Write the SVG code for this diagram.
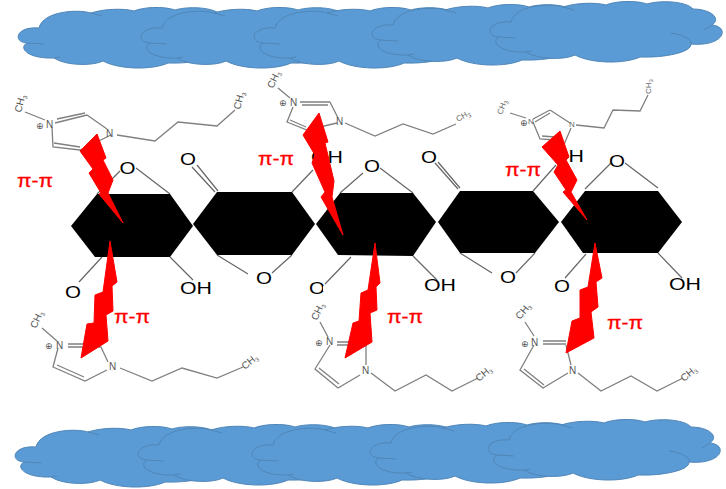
<svg xmlns="http://www.w3.org/2000/svg" width="726" height="489" viewBox="0 0 726 489">
<style>
.cloud{fill:#5b9bd5;stroke:#4f86b8;stroke-width:1}
.cl{fill:none;stroke:#4f86b8;stroke-width:1}
.hex{fill:#000}
.bond{fill:none;stroke:#666;stroke-width:1.2}
.mol{fill:none;stroke:#808080;stroke-width:1.3}
.bolt{fill:#f00;stroke:#f00;stroke-width:1}
text{font-family:"Liberation Sans",Arial,sans-serif}
.a{font-size:17px;fill:#000}
.pi{font-size:18px;fill:#f00;stroke:#f00;stroke-width:.3}
.m{font-size:10px;fill:#555}
.t{font-size:8px;fill:#666}
.s{font-size:6px}
.p{font-size:9px;fill:#555;font-family:"DejaVu Sans",sans-serif}
</style>
<defs>
<g id="c">
<path class="cloud" d="M511,22C488,20 484,36 499,37C490,42 500,53 526,52C538,60 565,60 575,55C592,64 625,64 640,57C665,58 692,52 691,44C712,46 724,38 722,31C722,28 716,25 712,25C722,18 710,9 693,9C686,1 660,0 647,4C636,0 615,1 606,5C595,2 575,3 563,7C550,3 515,5 511,22Z"/>
<path class="cl" d="M499,37L516,38M526,52L532,51M563,7L574,10M671,33C685,35 692,40 691,44M712,25L704,30"/>
</g>
</defs>
<g id="clouds-top">
<use href="#c" x="-472" y="6"/>
<use href="#c" x="-349" y="6"/>
<path d="M246,56H272V64Q259,68 246,66Z" fill="#5b9bd5"/>
<use href="#c" x="-236" y="6"/>
<use href="#c" x="-118" y="3"/>
<use href="#c" x="0" y="0"/>
</g>
<g id="clouds-bottom">
<use href="#c" x="-475" y="425"/>
<use href="#c" x="-352" y="423"/>
<use href="#c" x="-238" y="423"/>
<use href="#c" x="-120" y="421"/>
<use href="#c" x="-2" y="418"/>
</g>
<g id="connectors">
<path class="bond" d="M97,194L120,171M136,168L170,194M192,167L215,192M197,165L218,191M292,192L313,170M340,193L363,173M380,168L413,193M435,163L458,189M438,162L460,188M533,191L556,165M585,189L611,163M625,163L658,188"/>
<path class="bond" d="M102,257L79,282M170,257L193,280M217,255L248,274M272,273L292,255M351,257L325,284M413,256L437,280M460,253L492,273M516,273L535,253M586,254L565,278M658,253L682,278"/>
</g>
<g id="hex1"><polygon class="hex" points="97,194 170,194 193,226 170,257 95,257 71,226"/></g>
<g id="hex2"><polygon class="hex" points="217,192 292,192 315,224 292,255 217,255 193,224"/></g>
<g id="hex3"><polygon class="hex" points="340,193 413,193 436,222 413,256 338,255 316,224"/></g>
<g id="hex4"><polygon class="hex" points="460,191 533,191 559,222 535,253 460,253 438,222"/></g>
<g id="hex5"><polygon class="hex" points="585,191 658,191 682,222 658,253 583,253 561,222"/></g>
<g id="labels">
<text class="a" x="119.500" y="174" textLength="16" lengthAdjust="spacingAndGlyphs">O</text>
<text class="a" x="180" y="165" textLength="16" lengthAdjust="spacingAndGlyphs">O</text>
<text class="a" x="311" y="163" textLength="32" lengthAdjust="spacingAndGlyphs">OH</text>
<text class="a" x="364" y="172" textLength="16" lengthAdjust="spacingAndGlyphs">O</text>
<text class="a" x="421" y="163" textLength="16" lengthAdjust="spacingAndGlyphs">O</text>
<text class="a" x="552" y="162" textLength="32" lengthAdjust="spacingAndGlyphs">OH</text>
<text class="a" x="609" y="167" textLength="16" lengthAdjust="spacingAndGlyphs">O</text>
<text class="a" x="65" y="298" textLength="16" lengthAdjust="spacingAndGlyphs">O</text>
<text class="a" x="180" y="294" textLength="32" lengthAdjust="spacingAndGlyphs">OH</text>
<text class="a" x="256" y="284" textLength="16" lengthAdjust="spacingAndGlyphs">O</text>
<text class="a" x="309" y="294" textLength="16" lengthAdjust="spacingAndGlyphs">O</text>
<rect x="323" y="286" width="5" height="5" fill="#fff"/>
<text class="a" x="424" y="291" textLength="32" lengthAdjust="spacingAndGlyphs">OH</text>
<text class="a" x="500" y="283" textLength="16" lengthAdjust="spacingAndGlyphs">O</text>
<text class="a" x="554" y="292" textLength="16" lengthAdjust="spacingAndGlyphs">O</text>
<text class="a" x="669" y="290" textLength="32" lengthAdjust="spacingAndGlyphs">OH</text>
</g>
<g id="mol1">
<path class="mol" d="M25,112L45,120M55,123L87,115M57,119L85,113M87,115L107,129M111,135L80,150L53,147L52,127M54,143L80,147M117,135L155,141L178,122L217,126L235,110"/>
<text class="p" x="36" y="129">⊕</text><text class="m" x="46" y="128">N</text><text class="m" x="106" y="137">N</text>
<text class="m" transform="translate(21,113) rotate(-75)">CH<tspan class="s" dy="2">3</tspan></text>
<text class="m" transform="translate(240,110) rotate(-75)">CH<tspan class="s" dy="2">3</tspan></text>
</g>
<g id="mol2">
<path class="mol" d="M278,88L290,98M300,102L330,102M302,105L328,105M330,102L338,118M337,123L307,130L287,122L293,107M290,120L306,127M345,123L375,136L403,124L433,134L456,124"/>
<text class="p" x="279" y="106">⊕</text><text class="m" x="290" y="106">N</text><text class="m" x="336" y="125">N</text>
<text class="m" transform="translate(273,89) rotate(-65)">CH<tspan class="s" dy="2">3</tspan></text>
<text class="t" transform="translate(458,122) rotate(-30)">CH<tspan class="s" dy="2">3</tspan></text>
</g>
<g id="mol3">
<path class="mol" d="M510,113L526,118M533,119L550,110M535,122L550,113M550,110L570,123M571,128L563,147L555,140L540,139L533,122M542,136L555,137M576,125L604,128L613,110L640,111L648,95"/>
<text class="p" x="520" y="126">⊕</text><text class="t" x="528" y="124">N</text><text class="t" x="569" y="127">N</text>
<text class="t" transform="translate(502,115) rotate(-70)">CH<tspan class="s" dy="2">3</tspan></text>
<text class="t" transform="translate(651,94) rotate(-90)">CH<tspan class="s" dy="2">3</tspan></text>
</g>
<g id="mol4">
<path class="mol" d="M42,328L57,341M68,344L100,344M68,347L100,347M100,345L108,362M107,370L85,381L53,367L58,348M84,377L57,365M120,368L152,381L182,368L217,378L243,367"/>
<text class="p" x="45" y="349">⊕</text><text class="m" x="56" y="349">N</text><text class="m" x="109" y="370">N</text>
<text class="m" transform="translate(36,329) rotate(-65)">CH<tspan class="s" dy="2">3</tspan></text>
<text class="m" transform="translate(245,370) rotate(-40)">CH<tspan class="s" dy="2">3</tspan></text>
</g>
<g id="mol5">
<path class="mol" d="M320,322L328,337M337,342L366,342M337,345L366,345M366,345L366,365M330,345L315,369L338,388L360,375M319,368L339,384M371,373L395,391L426,375L452,391L478,378"/>
<text class="p" x="315" y="346">⊕</text><text class="m" x="326" y="345">N</text><text class="m" x="362" y="374">N</text>
<text class="m" transform="translate(317,321) rotate(-65)">CH<tspan class="s" dy="2">3</tspan></text>
<text class="m" transform="translate(479,382) rotate(-40)">CH<tspan class="s" dy="2">3</tspan></text>
</g>
<g id="mol6">
<path class="mol" d="M525,322L534,336M543,341L566,341M543,344L566,344M566,345L571,365M534,345L520,370L543,388L568,373M524,369L544,385M578,373L601,391L631,376L657,391L683,378"/>
<text class="p" x="521" y="347">⊕</text><text class="m" x="531" y="346">N</text><text class="m" x="569" y="374">N</text>
<text class="m" transform="translate(520,320) rotate(-50)">CH<tspan class="s" dy="2">3</tspan></text>
<text class="m" transform="translate(684,382) rotate(-40)">CH<tspan class="s" dy="2">3</tspan></text>
</g>
<g id="bolt1"><polygon class="bolt" points="97,134 80,151 93,169 89,173 101,193 99,194 123,223 108,193 113,180 103,160 106,158"/></g>
<g id="bolt2"><polygon class="bolt" points="319,113 303,135 315,155 312,163 325,192 321,197 343,235 332,197 334,181 325,143 328,142"/></g>
<g id="bolt3"><polygon class="bolt" points="560,131 542,147 558,165 554,172 566,190 563,192 587,220 571,192 577,180 566,160 569,157"/></g>
<g id="bolt4"><polygon class="bolt" points="110,241 117,282 112,286 113,311 106,315 108,341 81,358 87,324 94,323 95,295 103,292"/></g>
<g id="bolt5"><polygon class="bolt" points="375,243 380,283 376,287 377,310 370,313 372,342 345,358 353,323 359,321 361,293 368,290"/></g>
<g id="bolt6"><polygon class="bolt" points="595,243 602,278 596,282 598,307 591,312 594,338 566,353 572,321 580,318 580,290 588,287"/></g>
<g id="pi-labels">
<text class="pi" x="17" y="187" textLength="36" lengthAdjust="spacingAndGlyphs">π-π</text>
<text class="pi" x="258" y="165" textLength="36" lengthAdjust="spacingAndGlyphs">π-π</text>
<text class="pi" x="505" y="176" textLength="36" lengthAdjust="spacingAndGlyphs">π-π</text>
<text class="pi" x="114" y="323" textLength="36" lengthAdjust="spacingAndGlyphs">π-π</text>
<text class="pi" x="387" y="323" textLength="36" lengthAdjust="spacingAndGlyphs">π-π</text>
<text class="pi" x="607" y="329" textLength="36" lengthAdjust="spacingAndGlyphs">π-π</text>
</g>
</svg>
